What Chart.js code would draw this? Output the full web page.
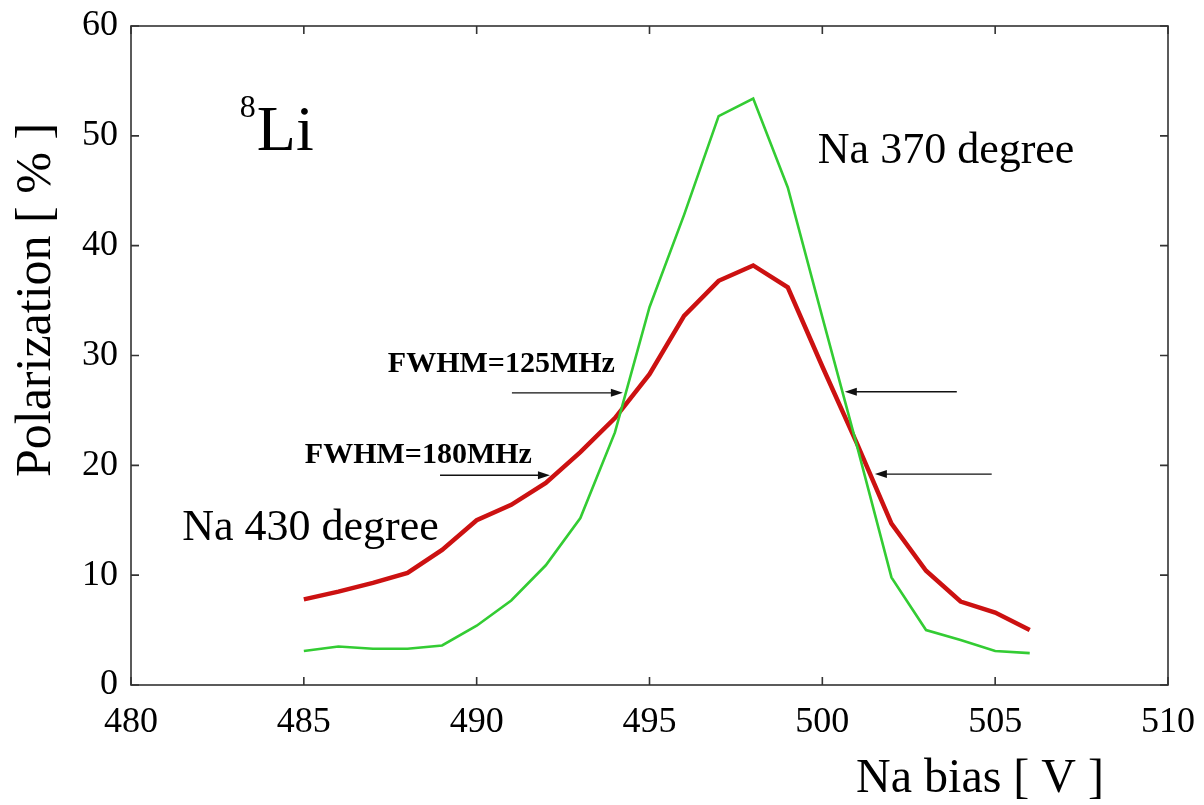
<!DOCTYPE html>
<html><head><meta charset="utf-8">
<script src="https://cdn.jsdelivr.net/npm/chart.js@4/dist/chart.umd.min.js"></script>
<style>html,body{margin:0;padding:0;background:#fff}#wrap{width:1204px;height:805px}</style>
</head><body><div id="wrap"><canvas id="c" width="1204" height="805"></canvas></div>
<script>
// ---- data ----
const biasV = [485,486,487,488,489,490,491,492,493,494,495,496,497,498,499,500,501,502,503,504,505,506];
const na430 = [7.8,8.5,9.3,10.2,12.3,15.0,16.4,18.4,21.2,24.3,28.3,33.6,36.8,38.2,36.2,29.0,22.0,14.7,10.4,7.6,6.6,5.0];
const na370 = [3.1,3.5,3.3,3.3,3.6,5.4,7.7,10.9,15.2,23.0,34.4,42.8,51.8,53.4,45.3,33.5,21.8,9.8,5.0,4.1,3.1,2.9];
const xTickValues = [480,485,490,495,500,505,510];
const yTickValues = [0,10,20,30,40,50,60];
const xAxisTitle = 'Na bias [ V ]';
const yAxisTitle = 'Polarization [ % ]';
const annoTexts = [
  {text:'Na 370 degree', x:499.87, y:47.5, size:44, weight:'normal'},
  {text:'Na 430 degree', x:481.48, y:13.2, size:44, weight:'normal'},
  {text:'FWHM=125MHz', x:487.43, y:28.5, size:30, weight:'bold'},
  {text:'FWHM=180MHz', x:485.03, y:20.2, size:30, weight:'bold'}
];
const isotope = {sup:'8', base:'Li', x:483.64, y:48.7};
const arrows = [
  {x1:491.02, x2:494.23, y:26.6},
  {x1:488.94, x2:492.12, y:19.1},
  {x1:503.89, x2:500.65, y:26.7},
  {x1:504.90, x2:501.52, y:19.2}
];

const SERIF = '"Liberation Serif", "Times New Roman", serif';

const overlay = {
  id:'overlay',
  afterDraw(chart){
    const ctx = chart.ctx, a = chart.chartArea;
    const xs = chart.scales.x, ys = chart.scales.y;
    ctx.save();
    // frame
    ctx.strokeStyle = '#333'; ctx.lineWidth = 1.6;
    ctx.strokeRect(a.left, a.top, a.right - a.left, a.bottom - a.top);
    // inward ticks
    ctx.beginPath();
    const tl = 8;
    xTickValues.forEach(v => {
      const px = xs.getPixelForValue(v);
      ctx.moveTo(px, a.bottom); ctx.lineTo(px, a.bottom - tl);
      ctx.moveTo(px, a.top); ctx.lineTo(px, a.top + tl);
    });
    yTickValues.forEach(v => {
      const py = ys.getPixelForValue(v);
      ctx.moveTo(a.left, py); ctx.lineTo(a.left + tl, py);
      ctx.moveTo(a.right, py); ctx.lineTo(a.right - tl, py);
    });
    ctx.stroke();
    // arrows
    ctx.strokeStyle = '#111'; ctx.fillStyle = '#111'; ctx.lineWidth = 1.4;
    arrows.forEach(ar => {
      const x1 = xs.getPixelForValue(ar.x1), x2 = xs.getPixelForValue(ar.x2), y = ys.getPixelForValue(ar.y);
      const dir = Math.sign(x2 - x1);
      ctx.beginPath(); ctx.moveTo(x1, y); ctx.lineTo(x2 - dir*8, y); ctx.stroke();
      ctx.beginPath(); ctx.moveTo(x2, y); ctx.lineTo(x2 - dir*12, y - 4); ctx.lineTo(x2 - dir*12, y + 4); ctx.closePath(); ctx.fill();
    });
    // annotation texts
    ctx.fillStyle = '#000'; ctx.textBaseline = 'alphabetic'; ctx.textAlign = 'left';
    annoTexts.forEach(t => {
      ctx.font = t.weight + ' ' + t.size + 'px ' + SERIF;
      ctx.fillText(t.text, xs.getPixelForValue(t.x), ys.getPixelForValue(t.y));
    });
    // isotope label
    const ix = xs.getPixelForValue(isotope.x), iy = ys.getPixelForValue(isotope.y);
    ctx.font = '64px ' + SERIF;
    ctx.fillText(isotope.base, ix, iy);
    ctx.font = '32px ' + SERIF;
    ctx.textAlign = 'right';
    ctx.fillText(isotope.sup, ix - 1, iy - 33);
    // axis titles
    ctx.font = '48px ' + SERIF;
    ctx.textAlign = 'right';
    ctx.fillText(xAxisTitle, 1104, 792);
    ctx.save();
    ctx.translate(50, 300);
    ctx.rotate(-Math.PI/2);
    ctx.textAlign = 'center';
    ctx.font = '50px ' + SERIF;
    ctx.fillText(yAxisTitle, 0, 0);
    ctx.restore();
    ctx.restore();
  }
};

const zeroPad = s => { s.paddingTop = 0; s.paddingBottom = 0; s.paddingLeft = 0; s.paddingRight = 0; };

new Chart(document.getElementById('c'), {
  type:'line',
  data:{
    datasets:[
      {label:'Na 370 degree', data: biasV.map((x,i)=>({x, y:na370[i]})), borderColor:'#33cc33', borderWidth:2.6, pointRadius:0, tension:0, order:1},
      {label:'Na 430 degree', data: biasV.map((x,i)=>({x, y:na430[i]})), borderColor:'#cc1111', borderWidth:4.5, pointRadius:0, tension:0, order:2}
    ]
  },
  options:{
    responsive:false, animation:false,
    layout:{padding:{left:0, top:26, right:36, bottom:0}},
    plugins:{legend:{display:false}, tooltip:{enabled:false}},
    scales:{
      x:{type:'linear', min:480, max:510,
        afterBuildTicks: s => { s.ticks = xTickValues.map(v => ({value:v})); },
        afterFit: s => { s.height = 120; zeroPad(s); },
        grid:{display:false, drawTicks:false}, border:{display:false},
        ticks:{color:'#000', padding:16, maxRotation:0, font:{family:SERIF, size:36}}
      },
      y:{type:'linear', min:0, max:60,
        afterBuildTicks: s => { s.ticks = yTickValues.map(v => ({value:v})); },
        afterFit: s => { s.width = 131; zeroPad(s); },
        grid:{display:false, drawTicks:false}, border:{display:false},
        ticks:{color:'#000', padding:13, font:{family:SERIF, size:36}}
      }
    }
  },
  plugins:[overlay]
});
</script></body></html>
